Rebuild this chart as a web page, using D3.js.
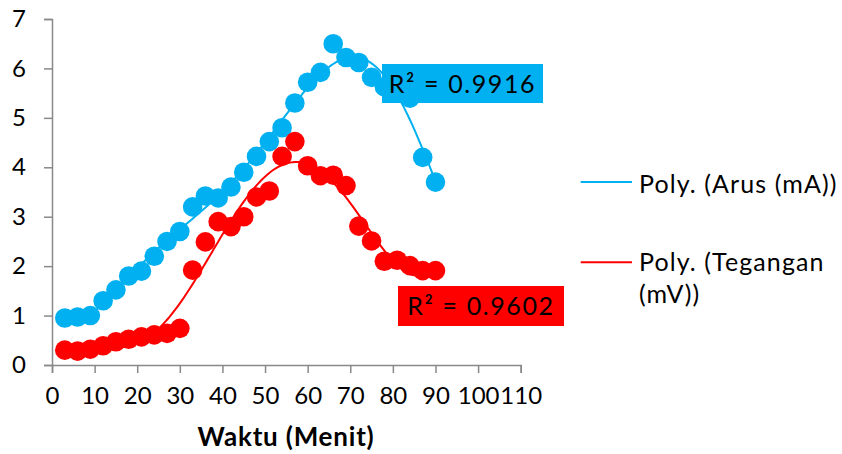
<!DOCTYPE html>
<html><head><meta charset="utf-8">
<script src="https://cdn.jsdelivr.net/npm/d3@7"></script>
<style>
body{margin:0;background:#fff;}
svg{display:block;font-family:Lato,"Noto Sans",sans-serif;}
</style></head>
<body><svg id="chart" width="842" height="454"></svg>
<script>
const waktu = [3,6,9,12,15,18,21,24,27,30,33,36,39,42,45,48,51,54,57,60,63,66,69,72,75,78,81,84,87,90];
const arus = [0.95,0.97,1.0,1.3,1.52,1.8,1.9,2.2,2.5,2.7,3.2,3.42,3.38,3.6,3.9,4.22,4.52,4.8,5.3,5.72,5.92,6.5,6.22,6.12,5.82,5.63,5.5,5.4,4.2,3.7];
const tegangan = [0.3,0.28,0.32,0.39,0.47,0.52,0.57,0.61,0.64,0.74,1.92,2.49,2.9,2.8,3.0,3.4,3.52,4.22,4.52,4.03,3.83,3.84,3.63,2.81,2.51,2.1,2.12,2.01,1.91,1.91];
const xTicks = [0,10,20,30,40,50,60,70,80,90,100,110];
const yTicks = [0,1,2,3,4,5,6,7];
const seriesNames = ["Poly. (Arus (mA))", "Poly. (Tegangan (mV))"];
const r2Labels = ["R² = 0.9916", "R² = 0.9602"];
const colors = ["#00B0F0", "#FF0000"];

const svg = d3.select("#chart");
const x = d3.scaleLinear().domain([0,110]).range([52,520.7]);
const y = d3.scaleLinear().domain([0,7]).range([365,19]);
const axisColor = "#898989";

// polynomial least squares fit (order n) - Excel style trendline
function polyfit(xs, ys, n){
  const c = 46.5, s = 43.5;
  const m = n+1;
  const A = Array.from({length:m},()=>new Array(m+1).fill(0));
  xs.forEach((xv,i)=>{
    const u=(xv-c)/s;
    const p=[]; for(let k=0;k<m;k++) p.push(Math.pow(u,k));
    for(let a=0;a<m;a++){ for(let b=0;b<m;b++) A[a][b]+=p[a]*p[b]; A[a][m]+=p[a]*ys[i]; }
  });
  for(let i=0;i<m;i++){
    let piv=i; for(let r=i+1;r<m;r++) if(Math.abs(A[r][i])>Math.abs(A[piv][i])) piv=r;
    [A[i],A[piv]]=[A[piv],A[i]];
    for(let r=0;r<m;r++){ if(r===i) continue; const f=A[r][i]/A[i][i]; for(let k=i;k<=m;k++) A[r][k]-=f*A[i][k]; }
  }
  const coef=A.map((row,i)=>row[m]/row[i]);
  return t=>{ const u=(t-c)/s; let v=0; for(let k=m-1;k>=0;k--) v=v*u+coef[k]; return v; };
}

// axes
const xAxis = svg.append("g").attr("transform","translate(0,365)")
  .call(d3.axisBottom(x).tickValues(xTicks).tickSize(8).tickPadding(14).tickFormat(d3.format("d")));
const yAxis = svg.append("g").attr("transform","translate(52,0)")
  .call(d3.axisLeft(y).tickValues(yTicks).tickSize(8).tickPadding(18).tickFormat(d3.format("d")));
[xAxis,yAxis].forEach(g=>{
  g.select(".domain").attr("stroke",axisColor).attr("stroke-width",1.5);
  g.selectAll(".tick line").attr("stroke",axisColor).attr("stroke-width",1.5);
  g.selectAll(".tick text").attr("fill","#000").style("font-size","24px").style("font-family","Lato");
});

// markers
const series = [arus, tegangan];
series.forEach((vals,si)=>{
  svg.append("g").selectAll("circle").data(vals).join("circle")
    .attr("cx",(d,i)=>x(waktu[i])).attr("cy",d=>y(d)).attr("r",9.8)
    .attr("fill",colors[si]);
});

// trendlines
const line = d3.line().x(d=>x(d[0])).y(d=>y(d[1]));
series.forEach((vals,si)=>{
  const f = polyfit(waktu, vals, 6);
  const pts = d3.range(3, 90.01, 0.5).map(t=>[t,f(t)]);
  svg.append("path").attr("d",line(pts)).attr("fill","none")
    .attr("stroke",colors[si]).attr("stroke-width",2);
});

// R² labels
const boxes = [{x:382,y:64,w:161,h:39},{x:398,y:286,w:166,h:40}];
boxes.forEach((b,i)=>{
  svg.append("rect").attr("x",b.x).attr("y",b.y).attr("width",b.w).attr("height",b.h).attr("fill",colors[i]);
  svg.append("text").attr("x",b.x+b.w/2).attr("y",b.y+b.h/2+9).attr("text-anchor","middle")
    .style("font-size","25px").attr("fill","#000").attr("letter-spacing","1.6px").text(r2Labels[i]);
});

// legend
const lg = svg.append("g").style("font-size","25px").attr("letter-spacing","1.1px");
lg.append("line").attr("x1",580.7).attr("x2",632).attr("y1",182).attr("y2",182).attr("stroke",colors[0]).attr("stroke-width",2);
lg.append("text").attr("x",639).attr("y",192.5).text(seriesNames[0]);
lg.append("line").attr("x1",580.7).attr("x2",632).attr("y1",262.3).attr("y2",262.3).attr("stroke",colors[1]).attr("stroke-width",2);
const t2 = lg.append("text").attr("x",639).attr("y",271);
t2.append("tspan").attr("x",639).text("Poly. (Tegangan");
t2.append("tspan").attr("x",639).attr("dy",32).text("(mV))");

// axis title
svg.append("text").attr("x",286).attr("y",446).attr("text-anchor","middle")
  .style("font-size","26px").style("font-weight","bold").attr("letter-spacing","0.8px").text("Waktu (Menit)");
</script></body></html>
